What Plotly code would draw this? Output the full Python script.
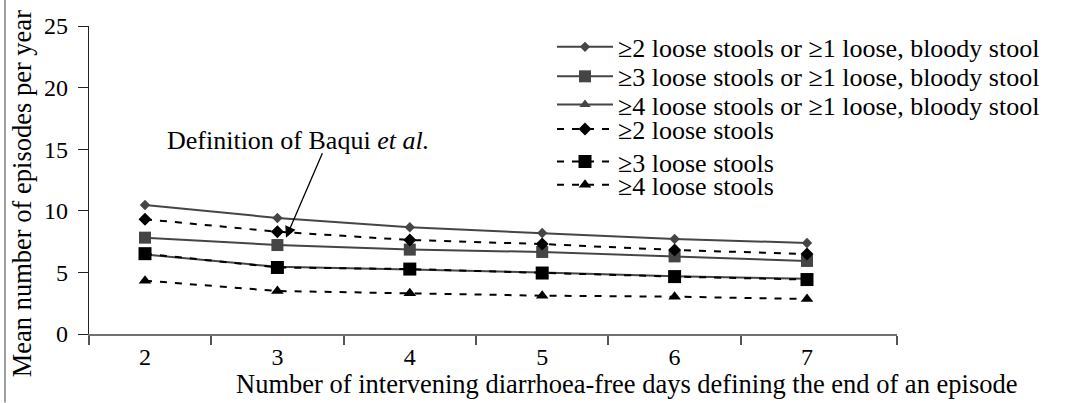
import plotly.graph_objects as go

days = [2, 3, 4, 5, 6, 7]
s2_or_bloody = [10.47, 9.42, 8.66, 8.20, 7.71, 7.39]
s3_or_bloody = [7.82, 7.22, 6.85, 6.66, 6.30, 5.93]
s4_or_bloody = [6.45, 5.45, 5.24, 5.00, 4.68, 4.48]
s2_loose = [9.31, 8.30, 7.63, 7.30, 6.82, 6.49]
s3_loose = [6.52, 5.40, 5.27, 4.95, 4.66, 4.42]
s4_loose = [4.33, 3.49, 3.30, 3.11, 3.03, 2.84]

names = [
    "≥2 loose stools or ≥1 loose, bloody stool",
    "≥3 loose stools or ≥1 loose, bloody stool",
    "≥4 loose stools or ≥1 loose, bloody stool",
    "≥2 loose stools",
    "≥3 loose stools",
    "≥4 loose stools",
]
y_ticks = [0, 5, 10, 15, 20, 25]

FONT = "Liberation Serif, Times New Roman, serif"
GREY = "#454545"
BLACK = "#000000"

# plot-area pixel geometry
L, R, T, B = 89, 897, 26, 334.5
W, H = 1065, 403
xr = [2 - (145 - L) / 132.4, 7 + (R - 807) / 132.4]


def py2paper(py):
    return (B - py) / (B - T)


def px2paper(px):
    return (px - L) / (R - L)


fig = go.Figure()

specs = [
    (s2_or_bloody, names[0], GREY, "solid", "diamond", 8, "legend"),
    (s3_or_bloody, names[1], GREY, "solid", "square", 12, "legend2"),
    (s4_or_bloody, names[2], GREY, "solid", "triangle-up", 10, "legend3"),
    (s2_loose, names[3], BLACK, "7px,8px", "diamond", 10, "legend4"),
    (s3_loose, names[4], BLACK, "7px,8px", "square", 13, "legend5"),
    (s4_loose, names[5], BLACK, "7px,8px", "triangle-up", 11, "legend6"),
]
for vals, nm, col, dash, sym, size, lg in specs:
    fig.add_trace(go.Scatter(
        x=days, y=vals, name=nm, mode="lines+markers",
        line=dict(color=col, width=2, dash=dash),
        marker=dict(symbol=sym, size=size, color=col),
        legend=lg,
    ))

row_y = [47, 76.5, 104.8, 129.3, 161.8, 185]
legend_layout = {}
for i, ry in enumerate(row_y):
    key = "legend" if i == 0 else f"legend{i+1}"
    legend_layout[key] = dict(
        x=px2paper(552), xanchor="left",
        y=py2paper(ry), yanchor="middle",
        font=dict(family=FONT, size=26, color="black"),
        bgcolor="rgba(0,0,0,0)", borderwidth=0,
        itemwidth=56, tracegroupgap=0,
    )

fig.update_layout(
    width=W, height=H,
    margin=dict(l=L, r=W - R, t=T, b=H - B, pad=0),
    paper_bgcolor="white", plot_bgcolor="white",
    font=dict(family=FONT, size=24, color="black"),
    showlegend=True,
    **legend_layout,
)

fig.update_xaxes(
    range=xr, tickvals=days, ticktext=[str(d) for d in days],
    ticks="", showgrid=False, zeroline=False,
    showline=True, linecolor="#707070", linewidth=1.5,
    tickfont=dict(family=FONT, size=24, color="black"),
    minor=dict(tickvals=[xr[0], 2.5, 3.5, 4.5, 5.5, 6.5, xr[1]],
               ticks="outside", ticklen=9, tickcolor="#555555", tickwidth=1.5,
               showgrid=False),
    fixedrange=True,
)
fig.update_yaxes(
    range=[0, 25], tickvals=y_ticks, ticks="outside", ticklen=10,
    tickcolor="#222222", tickwidth=1.2,
    showgrid=False, zeroline=False,
    showline=True, linecolor="#222222", linewidth=1.2,
    tickfont=dict(family=FONT, size=24, color="black"),
    ticklabelstandoff=5,
    fixedrange=True,
)

# axis titles
fig.add_annotation(
    text="Mean number of episodes per year", xref="paper", yref="paper",
    x=px2paper(22), y=py2paper(194.5), textangle=-90, showarrow=False,
    font=dict(family=FONT, size=26.5, color="black"),
    xanchor="center", yanchor="middle",
)
fig.add_annotation(
    text="Number of intervening diarrhoea-free days defining the end of an episode",
    xref="paper", yref="paper", x=px2paper(626), y=py2paper(385),
    showarrow=False, font=dict(family=FONT, size=26.5, color="black"),
    xanchor="center", yanchor="middle",
)

# callout
fig.add_annotation(
    text="Definition of Baqui <i>et al.</i>", x=3.156, y=15.68,
    xref="x", yref="y", showarrow=False,
    font=dict(family=FONT, size=26, color="black"),
    xanchor="center", yanchor="middle",
)
fig.add_annotation(
    text="", x=3.065, y=7.82, xref="x", yref="y",
    showarrow=True, ax=37, ay=-86, axref="pixel", ayref="pixel",
    arrowhead=2, arrowsize=1.7, arrowwidth=1.3, arrowcolor="black",
    standoff=0, startstandoff=0,
)

# left frame line
fig.add_shape(type="line", xref="paper", yref="paper",
              x0=px2paper(5), x1=px2paper(5), y0=py2paper(0), y1=py2paper(403),
              line=dict(color="#808080", width=1.5))

fig.write_html(
    "out.html",
    config={"displayModeBar": False},
    post_script="document.body.style.margin='0';document.body.style.overflow='hidden';",
)
